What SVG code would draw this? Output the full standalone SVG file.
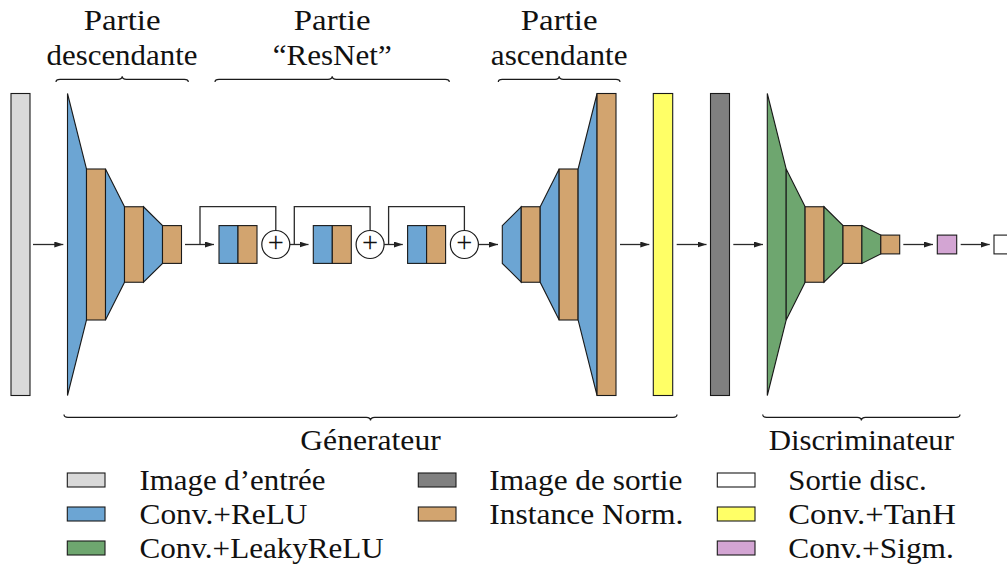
<svg xmlns="http://www.w3.org/2000/svg" width="1007" height="570" viewBox="0 0 1007 570">
<defs>
<marker id="ah" markerUnits="userSpaceOnUse" markerWidth="10" markerHeight="8" refX="9" refY="3" orient="auto">
<path d="M0,0 L9,3 L0,6 Z" fill="#222"/>
</marker>
<style>
.s{stroke:#1a1a1a;stroke-width:1.1;stroke-linejoin:miter}
.blue{fill:#6ca5d3}
.tan{fill:#d2a46f}
.green{fill:#6ea66f}
.lgray{fill:#d9d9d9}
.dgray{fill:#808080}
.yel{fill:#ffff66}
.pink{fill:#d3a5d3}
.wht{fill:#ffffff}
.c{fill:none;stroke:#2a2a2a;stroke-width:1.3}
.a{marker-end:url(#ah)}
.br{fill:none;stroke:#1a1a1a;stroke-width:1.2}
.t{font-size:28.5px;fill:#111}
.m{text-anchor:middle}
.plus{fill:#fff;stroke:#1a1a1a;stroke-width:1.2}
</style>
</defs>
<rect width="1007" height="570" fill="#fff"/>

<g id="connectors">
<path class="c a" d="M33,244.5 H63.3"/>
<path class="c a" d="M185,244.5 H214"/>
<path class="c" d="M200,244.5 V206.7 H275.8 V230.5"/>
<path class="c a" d="M289.8,244.5 H308.5"/>
<path class="c" d="M294.3,244.5 V206.7 H370.1 V230.5"/>
<path class="c a" d="M384.1,244.5 H402.8"/>
<path class="c" d="M388.6,244.5 V206.7 H464.4 V230.5"/>
<path class="c a" d="M478.4,244.5 H498"/>
<path class="c a" d="M620,244.5 H649.3"/>
<path class="c a" d="M676.7,244.5 H706.5"/>
<path class="c a" d="M733.3,244.5 H763"/>
<path class="c a" d="M903.3,244.5 H933"/>
<path class="c a" d="M960.7,244.5 H989.7"/>
</g>

<g id="input-image"><rect class="s lgray" x="11" y="93.5" width="19" height="302"/></g>

<g id="down-conv1"><polygon class="s blue" points="67.5,93.5 86.5,169 86.5,320 67.5,395.5"/></g>
<g id="down-norm1"><rect class="s tan" x="86.5" y="169" width="19" height="151"/></g>
<g id="down-conv2"><polygon class="s blue" points="105.5,169 124.5,206.75 124.5,282.25 105.5,320"/></g>
<g id="down-norm2"><rect class="s tan" x="124.5" y="206.75" width="19" height="75.5"/></g>
<g id="down-conv3"><polygon class="s blue" points="143.5,206.75 162.5,225.6 162.5,263.4 143.5,282.25"/></g>
<g id="down-norm3"><rect class="s tan" x="162.5" y="225.6" width="19" height="37.8"/></g>

<g id="res1">
<rect class="s blue" x="219" y="225.6" width="19" height="37.8"/>
<rect class="s tan" x="238" y="225.6" width="19" height="37.8"/>
</g>
<g id="add1"><circle class="plus" cx="275.8" cy="244.5" r="14"/><text class="t m" font-family="Liberation Serif, DejaVu Serif, serif" x="275.8" y="252">+</text></g>
<g id="res2">
<rect class="s blue" x="313.3" y="225.6" width="19" height="37.8"/>
<rect class="s tan" x="332.3" y="225.6" width="19" height="37.8"/>
</g>
<g id="add2"><circle class="plus" cx="370.1" cy="244.5" r="14"/><text class="t m" font-family="Liberation Serif, DejaVu Serif, serif" x="370.1" y="252">+</text></g>
<g id="res3">
<rect class="s blue" x="407.6" y="225.6" width="19" height="37.8"/>
<rect class="s tan" x="426.6" y="225.6" width="19" height="37.8"/>
</g>
<g id="add3"><circle class="plus" cx="464.4" cy="244.5" r="14"/><text class="t m" font-family="Liberation Serif, DejaVu Serif, serif" x="464.4" y="252">+</text></g>

<g id="up-conv1"><polygon class="s blue" points="502.3,225.6 521.25,206.75 521.25,282.25 502.3,263.4"/></g>
<g id="up-norm1"><rect class="s tan" x="521.25" y="206.75" width="18.95" height="75.5"/></g>
<g id="up-conv2"><polygon class="s blue" points="540.2,206.75 559.15,169 559.15,320 540.2,282.25"/></g>
<g id="up-norm2"><rect class="s tan" x="559.15" y="169" width="18.95" height="151"/></g>
<g id="up-conv3"><polygon class="s blue" points="578.1,169 597.05,93.5 597.05,395.5 578.1,320"/></g>
<g id="up-norm3"><rect class="s tan" x="597.05" y="93.5" width="18.95" height="302"/></g>

<g id="conv-tanh"><rect class="s yel" x="653.3" y="93.5" width="19.4" height="302"/></g>
<g id="output-image"><rect class="s dgray" x="710.5" y="93.5" width="19" height="302"/></g>

<g id="disc-conv1"><polygon class="s green" points="767.3,93.5 786.2,169 786.2,320 767.3,395.5"/></g>
<g id="disc-conv2"><polygon class="s green" points="786.2,169 805.1,206.75 805.1,282.25 786.2,320"/></g>
<g id="disc-norm1"><rect class="s tan" x="805.1" y="206.75" width="18.9" height="75.5"/></g>
<g id="disc-conv3"><polygon class="s green" points="824,206.75 843,225.6 843,263.4 824,282.25"/></g>
<g id="disc-norm2"><rect class="s tan" x="843" y="225.6" width="18.9" height="37.8"/></g>
<g id="disc-conv4"><polygon class="s green" points="861.9,225.6 880.8,235.1 880.8,253.9 861.9,263.4"/></g>
<g id="disc-norm3"><rect class="s tan" x="880.8" y="235.1" width="18.9" height="18.8"/></g>
<g id="conv-sigm"><rect class="s pink" x="937.3" y="235.1" width="19.4" height="18.8"/></g>
<g id="disc-output"><rect class="s wht" x="994" y="235.1" width="19.4" height="18.8"/></g>

<g id="braces">
<path class="br" d="M56,82 C56,80.2 57.5,79.3 60,79.3 L118,79.3 C120.6,79.3 122.2,78.4 122.2,76.3 C122.2,78.4 123.8,79.3 126.4,79.3 L184.3,79.3 C186.8,79.3 188.3,80.2 188.3,82"/>
<path class="br" d="M215,82 C215,80.2 216.5,79.3 219,79.3 L328,79.3 C330.6,79.3 332.2,78.4 332.2,76.3 C332.2,78.4 333.8,79.3 336.4,79.3 L445.3,79.3 C447.8,79.3 449.3,80.2 449.3,82"/>
<path class="br" d="M498.3,82 C498.3,80.2 499.8,79.3 502.3,79.3 L555,79.3 C557.6,79.3 559.2,78.4 559.2,76.3 C559.2,78.4 560.8,79.3 563.4,79.3 L616,79.3 C618.5,79.3 620,80.2 620,82"/>
<path class="br" d="M64,414.5 C64,416.3 65.5,417.3 68,417.3 L366.3,417.3 C368.9,417.3 370.5,418.2 370.5,420.4 C370.5,418.2 372.1,417.3 374.7,417.3 L673,417.3 C675.5,417.3 677,416.3 677,414.5"/>
<path class="br" d="M762.7,414.5 C762.7,416.3 764.2,417.3 766.7,417.3 L857.2,417.3 C859.8,417.3 861.4,418.2 861.4,420.4 C861.4,418.2 863,417.3 865.6,417.3 L956,417.3 C958.5,417.3 960,416.3 960,414.5"/>
</g>

<g id="labels" font-family="Liberation Serif, DejaVu Serif, serif">
<text class="t m" x="122.2" y="29.5" textLength="76.8" lengthAdjust="spacingAndGlyphs">Partie</text>
<text class="t m" x="122" y="64.5" textLength="151" lengthAdjust="spacingAndGlyphs">descendante</text>
<text class="t m" x="332.2" y="29.5" textLength="76.8" lengthAdjust="spacingAndGlyphs">Partie</text>
<text class="t m" x="332.2" y="64.5" textLength="119" lengthAdjust="spacingAndGlyphs">“ResNet”</text>
<text class="t m" x="559.2" y="29.5" textLength="76.8" lengthAdjust="spacingAndGlyphs">Partie</text>
<text class="t m" x="559.2" y="64.5" textLength="136.8" lengthAdjust="spacingAndGlyphs">ascendante</text>
<text class="t m" x="370.5" y="450" textLength="140.5" lengthAdjust="spacingAndGlyphs">Génerateur</text>
<text class="t m" x="861.4" y="450" textLength="185.5" lengthAdjust="spacingAndGlyphs">Discriminateur</text>
</g>

<g id="legend" font-family="Liberation Serif, DejaVu Serif, serif">
<rect class="s lgray" x="67.3" y="473" width="37.7" height="14"/>
<text class="t" x="139.5" y="489.5" textLength="186" lengthAdjust="spacingAndGlyphs">Image d’entrée</text>
<rect class="s blue" x="67.3" y="507" width="37.7" height="14"/>
<text class="t" x="139.5" y="523.5" textLength="168" lengthAdjust="spacingAndGlyphs">Conv.+ReLU</text>
<rect class="s green" x="67.3" y="541" width="37.7" height="14"/>
<text class="t" x="139.5" y="557.5" textLength="244.3" lengthAdjust="spacingAndGlyphs">Conv.+LeakyReLU</text>

<rect class="s dgray" x="418.3" y="473" width="37.7" height="14"/>
<text class="t" x="489.3" y="489.5" textLength="193" lengthAdjust="spacingAndGlyphs">Image de sortie</text>
<rect class="s tan" x="418.3" y="507" width="37.7" height="14"/>
<text class="t" x="489.3" y="523.5" textLength="194" lengthAdjust="spacingAndGlyphs">Instance Norm.</text>

<rect class="s wht" x="717.3" y="473" width="37.7" height="14"/>
<text class="t" x="788.3" y="489.5" textLength="138.3" lengthAdjust="spacingAndGlyphs">Sortie disc.</text>
<rect class="s yel" x="717.3" y="507" width="37.7" height="14"/>
<text class="t" x="788.3" y="523.5" textLength="167.5" lengthAdjust="spacingAndGlyphs">Conv.+TanH</text>
<rect class="s pink" x="717.3" y="541" width="37.7" height="14"/>
<text class="t" x="788.3" y="557.5" textLength="165.5" lengthAdjust="spacingAndGlyphs">Conv.+Sigm.</text>
</g>
</svg>
